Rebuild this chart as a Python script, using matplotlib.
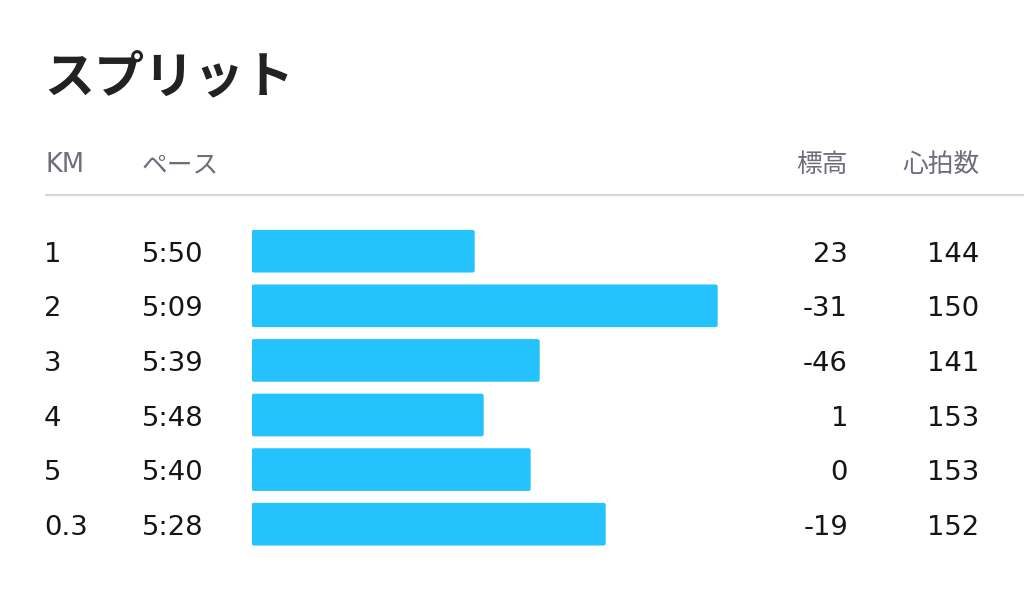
import matplotlib
matplotlib.use("Agg")
import matplotlib.pyplot as plt
from matplotlib.patches import FancyBboxPatch

# ---- data ----
title = "スプリット"
headers = ["KM", "ペース", "標高", "心拍数"]
km_labels = ["1", "2", "3", "4", "5", "0.3"]
paces = ["5:50", "5:09", "5:39", "5:48", "5:40", "5:28"]
bar_values = [223, 466, 288, 232, 279, 354]   # bar lengths
elevation = [23, -31, -46, 1, 0, -19]
heart_rate = [144, 150, 141, 153, 153, 152]

W, H = 1024, 598
fig = plt.figure(figsize=(W / 100, H / 100), dpi=100)
fig.patch.set_facecolor("white")

FAM = ["DejaVu Sans", "Noto Sans CJK JP"]
FAM_JP = ["Noto Sans CJK JP", "DejaVu Sans"]

# overlay axes in pixel coordinates for text
ov = fig.add_axes([0, 0, 1, 1])
ov.set_xlim(0, W)
ov.set_ylim(H, 0)
ov.axis("off")

# bar axes
n = len(bar_values)
row0, step = 251.2, 54.6
bx0, bx1 = 251.7, 1024
top_px = row0 - step / 2
bot_px = row0 + step * (n - 1) + step / 2
bax = fig.add_axes([bx0 / W, 1 - bot_px / H, (bx1 - bx0) / W, (bot_px - top_px) / H])
bax.set_xlim(0, bx1 - bx0)
bax.set_ylim(n - 0.5, -0.5)
bax.axis("off")
bar_h = 42.7 / step
bars = bax.barh(range(n), bar_values, height=bar_h, color="#24c3fe")
# rounded corners
for b in bars:
    x, y, w, h = b.get_x(), b.get_y(), b.get_width(), b.get_height()
    b.set_visible(False)
    p = FancyBboxPatch((x, y), w, h, boxstyle="round,pad=0,rounding_size=2.2",
                       mutation_aspect=(1 / step), facecolor="#24c3fe",
                       edgecolor="none")
    bax.add_patch(p)

# title
ov.text(44, 92, title, fontsize=36, fontweight="bold", color="#222222",
        family=FAM_JP, va="baseline", ha="left")

# headers
hc = "#6e6e7a"
hy = 172
ov.text(45, hy, headers[0], fontsize=18.5, color=hc, family=FAM, va="baseline")
ov.text(142, hy, headers[1], fontsize=18.5, color=hc, family=FAM_JP, va="baseline")
ov.text(848, hy, headers[2], fontsize=18.5, color=hc, family=FAM_JP, va="baseline", ha="right")
ov.text(980, hy, headers[3], fontsize=18.5, color=hc, family=FAM_JP, va="baseline", ha="right")

# separator
ov.plot([45, 1024], [194.5, 194.5], color="#d8d8dc", lw=1.6, solid_capstyle="butt")

# rows
tc = "#151515"
fs = 19.7
for i in range(n):
    yb = row0 + step * i + 10.5
    ov.text(44, yb, km_labels[i], fontsize=fs, color=tc, family=FAM, va="baseline")
    ov.text(142, yb, paces[i], fontsize=fs, color=tc, family=FAM, va="baseline")
    ov.text(848, yb, str(elevation[i]), fontsize=fs, color=tc, family=FAM,
            va="baseline", ha="right")
    ov.text(979, yb, str(heart_rate[i]), fontsize=fs, color=tc, family=FAM,
            va="baseline", ha="right")

fig.savefig("out.png", dpi=100, facecolor="white")
